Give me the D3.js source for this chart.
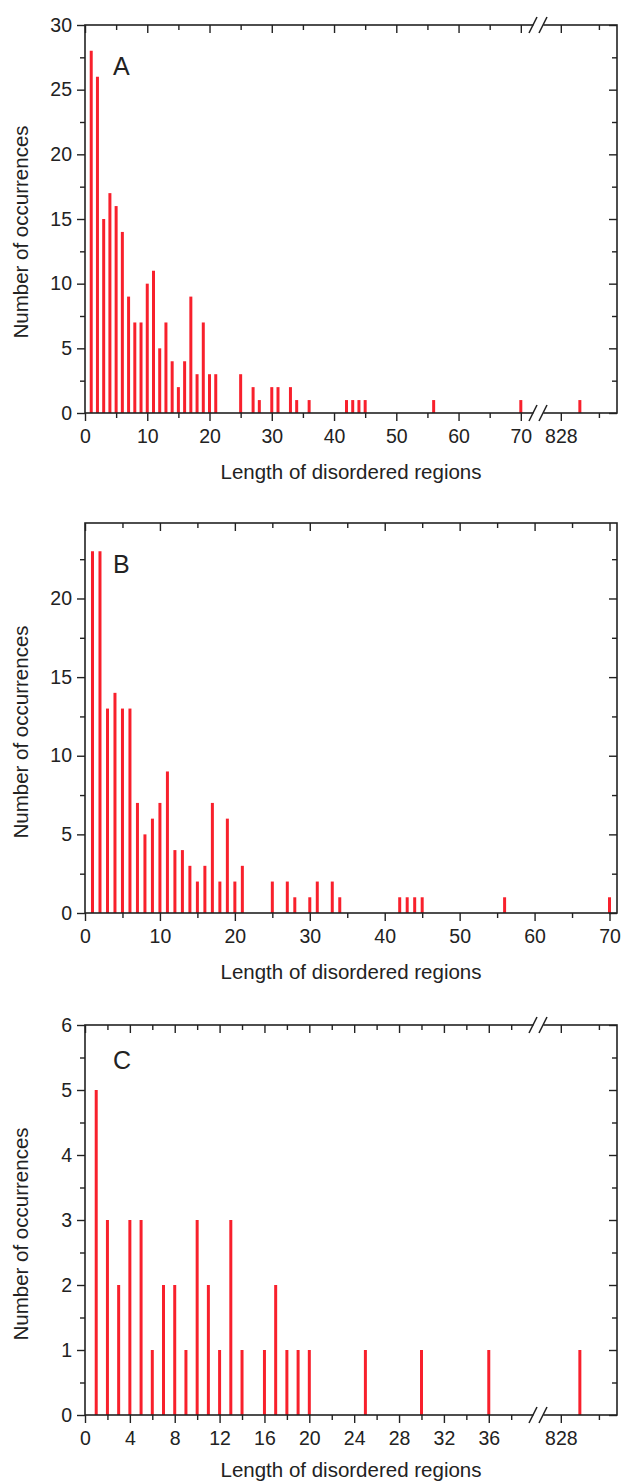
<!DOCTYPE html>
<html>
<head>
<meta charset="utf-8">
<script src="https://cdn.jsdelivr.net/npm/d3@7"></script>
<style>
  body { margin: 0; background: #fff; }
  svg { display: block; font-family: "Liberation Sans", Arial, sans-serif; }
  .tick line { stroke: #222; stroke-width: 1.4; }
  .tick text { fill: #222; font-size: 19.5px; }
</style>
</head>
<body>
<svg id="chart" width="621" height="1483"></svg>
<script>
// ---- data ----
// panel A
var lengthsA = [1,2,3,4,5,6,7,8,9,10,11,12,13,14,15,16,17,18,19,20,21,25,27,28,30,31,33,34,36,42,43,44,45,56,70,830];
var countsA  = [28,26,15,17,16,14,9,7,7,10,11,5,7,4,2,4,9,3,7,3,3,3,2,1,2,2,2,1,1,1,1,1,1,1,1,1];
// panel B
var lengthsB = [1,2,3,4,5,6,7,8,9,10,11,12,13,14,15,16,17,18,19,20,21,25,27,28,30,31,33,34,42,43,44,45,56,70];
var countsB  = [23,23,13,14,13,13,7,5,6,7,9,4,4,3,2,3,7,2,6,2,3,2,2,1,1,2,2,1,1,1,1,1,1,1];
// panel C
var lengthsC = [1,2,3,4,5,6,7,8,9,10,11,12,13,14,16,17,18,19,20,25,30,36,830];
var countsC  = [5,3,2,3,3,1,2,2,1,3,2,1,3,1,1,2,1,1,1,1,1,1,1];

// tick values
var xMajorA = [0,10,20,30,40,50,60,70,828];
var xMinorA = [5,15,25,35,45,55,65,832];
var yMajorA = [0,5,10,15,20,25,30];
var yMinorA = [2.5,7.5,12.5,17.5,22.5,27.5];

var xMajorB = [0,10,20,30,40,50,60,70];
var xMinorB = [5,15,25,35,45,55,65];
var yMajorB = [0,5,10,15,20];
var yMinorB = [2.5,7.5,12.5,17.5,22.5];

var xMajorC = [0,4,8,12,16,20,24,28,32,36,828];
var xMinorC = [2,6,10,14,18,22,26,30,34,38,832];
var yMajorC = [0,1,2,3,4,5,6];
var yMinorC = [0.5,1.5,2.5,3.5,4.5,5.5];

var xTitle = "Length of disordered regions";
var yTitle = "Number of occurrences";

var svg = d3.select("#chart");
var BAR = "#f8202c";
var INK = "#222";

// draws one panel
function drawPanel(p) {
    var g = svg.append("g");
    var x = d3.scaleLinear().domain(p.xDomain).range(p.xRange);
    var y = d3.scaleLinear().domain(p.yDomain).range([p.bottom, p.top]);
    var left = p.xRange[0], right = p.xRange[p.xRange.length - 1];

    // bars (thin needles)
    g.append("g").selectAll("line")
        .data(p.lengths)
        .enter().append("line")
        .attr("x1", function(d){ return x(d); })
        .attr("x2", function(d){ return x(d); })
        .attr("y1", y(0))
        .attr("y2", function(d,i){ return y(p.counts[i]); })
        .attr("stroke", BAR)
        .attr("stroke-width", 3);

    // bottom axis: major with labels, minor without (outward)
    g.append("g").attr("transform", "translate(0," + p.bottom + ")")
        .call(d3.axisBottom(x).tickValues(p.xMajor).tickSize(8).tickPadding(8)
              .tickFormat(function(d){ return p.xLabels.indexOf(d) >= 0 ? d : ""; }));
    g.append("g").attr("transform", "translate(0," + p.bottom + ")")
        .call(d3.axisBottom(x).tickValues(p.xMinor).tickSize(5).tickFormat(""));
    // top axis (inward)
    g.append("g").attr("transform", "translate(0," + p.top + ")")
        .call(d3.axisTop(x).tickValues(p.xMajor).tickSize(-8).tickFormat(""));
    g.append("g").attr("transform", "translate(0," + p.top + ")")
        .call(d3.axisTop(x).tickValues(p.xMinor).tickSize(-5).tickFormat(""));
    // left axis (outward)
    g.append("g").attr("transform", "translate(" + left + ",0)")
        .call(d3.axisLeft(y).tickValues(p.yMajor).tickSize(8).tickPadding(5).tickFormat(d3.format("d")));
    g.append("g").attr("transform", "translate(" + left + ",0)")
        .call(d3.axisLeft(y).tickValues(p.yMinor).tickSize(5).tickFormat(""));
    // right axis (inward)
    g.append("g").attr("transform", "translate(" + right + ",0)")
        .call(d3.axisRight(y).tickValues(p.yMajor).tickSize(-8).tickFormat(""));
    g.append("g").attr("transform", "translate(" + right + ",0)")
        .call(d3.axisRight(y).tickValues(p.yMinor).tickSize(-5).tickFormat(""));
    g.selectAll(".domain").remove();

    // frame
    g.append("rect")
        .attr("x", left).attr("y", p.top)
        .attr("width", right - left).attr("height", p.bottom - p.top)
        .attr("fill", "none").attr("stroke", INK).attr("stroke-width", 1.6);

    // axis break marks
    if (p.breakAt) {
        var bx = x(p.breakAt);
        [p.top, p.bottom].forEach(function(yy){
            g.append("path")
                .attr("d", "M" + (bx - 6) + "," + (yy + 8) + "L" + (bx - 1) + "," + (yy - 8) +
                           "L" + (bx + 9) + "," + (yy - 8) + "L" + (bx + 4) + "," + (yy + 8) + "Z")
                .attr("fill", "#fff");
            [-4, 6].forEach(function(off){
                g.append("line")
                    .attr("x1", bx + off - 4).attr("y1", yy + 8)
                    .attr("x2", bx + off + 4).attr("y2", yy - 8)
                    .attr("stroke", INK).attr("stroke-width", 1.5);
            });
        });
    }

    // titles
    g.append("text")
        .attr("x", (left + right) / 2).attr("y", p.bottom + p.titleGap)
        .attr("text-anchor", "middle").attr("font-size", "20.5px").attr("fill", INK)
        .text(xTitle);
    g.append("text")
        .attr("transform", "translate(28," + (p.bottom - 181) + ") rotate(-90)")
        .attr("text-anchor", "middle").attr("font-size", "20.5px").attr("fill", INK)
        .text(yTitle);
    g.append("text")
        .attr("x", 113).attr("y", p.letterY)
        .attr("font-size", "25px").attr("fill", INK)
        .text(p.letter);
}

drawPanel({
    letter: "A", letterY: 75,
    lengths: lengthsA, counts: countsA,
    xDomain: [0, 72.6, 825.5, 833.9], xRange: [85, 537, 537, 617],
    yDomain: [0, 30], top: 25, bottom: 413, titleGap: 66,
    xMajor: xMajorA, xMinor: xMinorA, xLabels: xMajorA,
    yMajor: yMajorA, yMinor: yMinorA,
    breakAt: 72.6
});

drawPanel({
    letter: "B", letterY: 573,
    lengths: lengthsB, counts: countsB,
    xDomain: [0, 71], xRange: [85, 617],
    yDomain: [0, 24.8], top: 523, bottom: 913, titleGap: 66,
    xMajor: xMajorB, xMinor: xMinorB, xLabels: xMajorB,
    yMajor: yMajorB, yMinor: yMinorB
});

drawPanel({
    letter: "C", letterY: 1069,
    lengths: lengthsC, counts: countsC,
    xDomain: [0, 40.3, 825.5, 833.9], xRange: [85, 537, 537, 617],
    yDomain: [0, 6], top: 1025, bottom: 1415, titleGap: 62,
    xMajor: xMajorC, xMinor: xMinorC, xLabels: xMajorC,
    yMajor: yMajorC, yMinor: yMinorC,
    breakAt: 40.3
});
</script>
</body>
</html>
